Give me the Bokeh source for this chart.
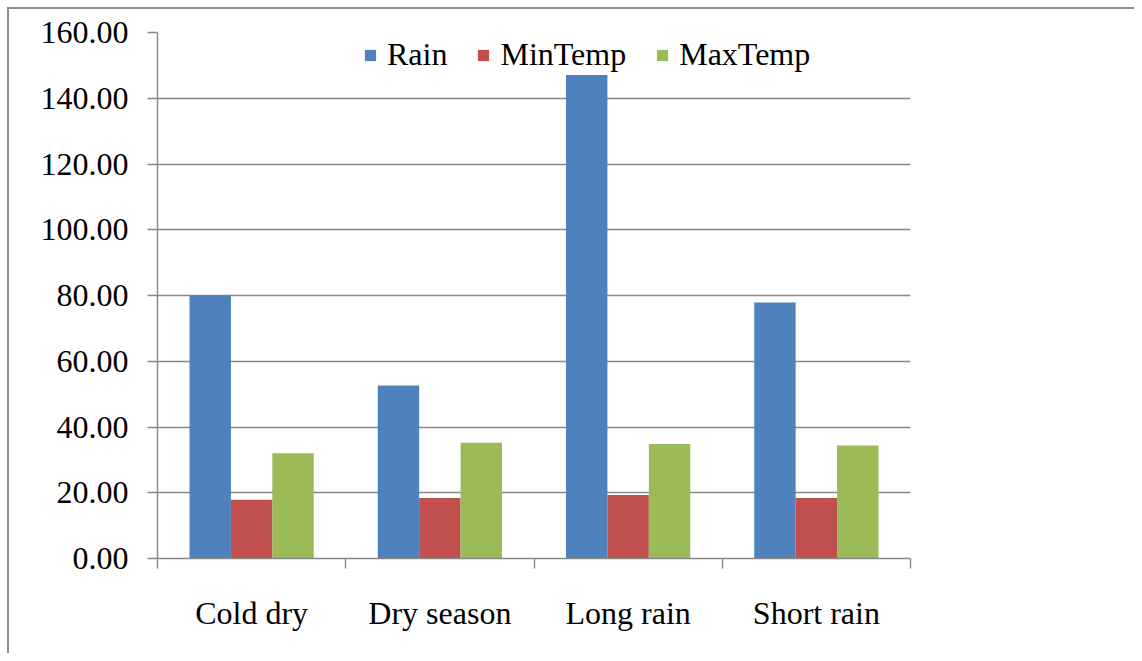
from bokeh.plotting import figure
from bokeh.models import Range1d, FixedTicker, NumeralTickFormatter, ColumnDataSource
from bokeh.transform import dodge
from bokeh.embed import file_html
from bokeh.resources import INLINE

categories = ["Cold dry", "Dry season", "Long rain", "Short rain"]
rain = [80.0, 52.6, 147.1, 77.9]
min_temp = [17.9, 18.4, 19.3, 18.4]
max_temp = [32.0, 35.2, 34.8, 34.4]
series = ["Rain", "MinTemp", "MaxTemp"]
colors = ["#4F81BD", "#C0504D", "#9BBB59"]
y_ticks = [0, 20, 40, 60, 80, 100, 120, 140, 160]

FONT = "Liberation Serif"
GRAY = "#888888"

xs = [i + 0.5 for i in range(len(categories))]
source = ColumnDataSource(dict(x=xs, Rain=rain, MinTemp=min_temp, MaxTemp=max_temp))

p = figure(width=1134, height=653, output_backend="svg", toolbar_location=None,
           x_range=Range1d(0, len(categories)), y_range=Range1d(0, 160),
           min_border_left=157, min_border_top=32, min_border_right=224, min_border_bottom=95)
p.outline_line_color = None
p.background_fill_color = "white"
p.border_fill_alpha = 0
# outer chart frame: grey line on the left and top edges
p.styles = {"background-color": "white",
            "box-shadow": "inset 7px 7px 0 0 white, inset 9px 9px 0 0 #8c8c8c"}

bw = 0.22
offsets = [-bw, 0.0, bw]
for name, col, off in zip(series, colors, offsets):
    p.vbar(x=dodge("x", off, range=p.x_range), top=name, width=bw, source=source,
           fill_color=col, line_color=None, legend_label=name)

# grid
p.xgrid.visible = False
p.ygrid.ticker = FixedTicker(ticks=y_ticks)
p.ygrid.grid_line_color = GRAY
p.ygrid.grid_line_width = 1.4

# y axis
ya = p.yaxis[0]
ya.ticker = FixedTicker(ticks=y_ticks, minor_ticks=[])
ya.formatter = NumeralTickFormatter(format="0.00")
ya.axis_line_color = GRAY
ya.axis_line_width = 1.4
ya.major_tick_line_color = GRAY
ya.major_tick_line_width = 1.4
ya.major_tick_out = 10
ya.major_tick_in = 0
ya.minor_tick_line_color = None
ya.major_label_standoff = 19
ya.major_label_text_font = FONT
ya.major_label_text_font_size = "32px"
ya.major_label_text_color = "black"

# x axis
xa = p.xaxis[0]
xa.ticker = FixedTicker(ticks=xs, minor_ticks=list(range(len(categories) + 1)))
xa.major_label_overrides = {x: c for x, c in zip(xs, categories)}
xa.axis_line_color = GRAY
xa.axis_line_width = 1.4
xa.major_tick_line_color = None
xa.major_tick_out = 0
xa.major_tick_in = 0
xa.minor_tick_line_color = GRAY
xa.minor_tick_line_width = 1.4
xa.minor_tick_out = 10
xa.minor_tick_in = 0
xa.major_label_standoff = 26
xa.major_label_text_font = FONT
xa.major_label_text_font_size = "32px"
xa.major_label_text_color = "black"

# legend
lg = p.legend[0]
lg.orientation = "horizontal"
lg.location = (206, 485)
lg.label_text_font = FONT
lg.label_text_font_size = "32px"
lg.label_text_color = "black"
lg.glyph_width = 14
lg.glyph_height = 14
lg.label_standoff = 10
lg.spacing = 29
lg.padding = 0
lg.margin = 0
lg.border_line_color = None
lg.background_fill_alpha = 0

open("out.html", "w").write(file_html(p, INLINE))
